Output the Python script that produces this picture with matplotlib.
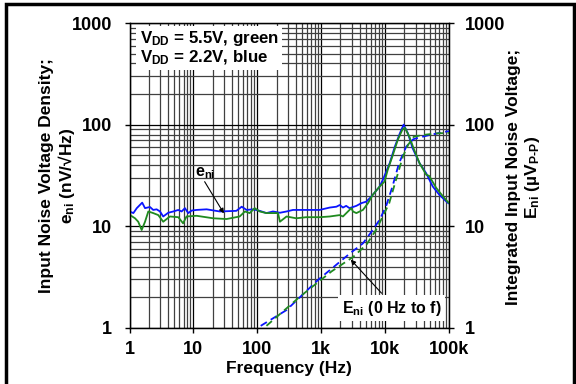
import matplotlib
matplotlib.use("Agg")
import matplotlib.pyplot as plt
import matplotlib.ticker as mticker
from matplotlib.patches import Rectangle

plt.rcParams['font.family'] = ['Liberation Sans', 'DejaVu Sans']
plt.rcParams['font.weight'] = 'bold'
plt.rcParams['mathtext.fontset'] = 'custom'
plt.rcParams['mathtext.rm'] = 'Liberation Sans:bold'
plt.rcParams['mathtext.bf'] = 'Liberation Sans:bold'
plt.rcParams['mathtext.it'] = 'Liberation Sans:bold'

# noise density, VDD = 2.2V (blue)
f_blue = [1.0, 1.15, 1.3, 1.58, 1.75, 2.09, 2.35, 2.66, 3.0, 3.37, 4.04, 4.84, 5.8, 6.55,
          7.37, 8.3, 9.4, 11.2, 16.1, 25.9, 47, 57, 68, 86, 109, 139, 176, 226, 287, 362,
          585, 944, 1360, 1730, 1950, 2190, 2460, 2770, 3550, 4250, 5080, 6080, 8200,
          9200, 11800, 14200, 17000, 19500, 22800, 27000, 34600, 44000, 55800, 70800,
          95000, 100000]
e_blue = [14.0, 13.5, 15.1, 17.1, 15.1, 15.5, 14.5, 14.7, 14.0, 12.5, 13.6, 14.0, 14.5, 14.0,
          15.1, 13.5, 14.3, 14.5, 14.7, 14.0, 14.2, 15.6, 14.5, 14.7, 14.2, 13.5, 14.0, 13.6,
          14.0, 14.5, 14.5, 14.5, 15.3, 15.6, 16.2, 15.3, 15.9, 15.1, 15.9, 16.9, 17.5, 19.6,
          24.6, 28.6, 41.8, 60.8, 82, 100, 82, 58.5, 41.8, 33.2, 24.6, 20.4, 17.1, 16.8]

# noise density, VDD = 5.5V (green)
f_green = [1.02, 1.22, 1.37, 1.55, 1.75, 1.97, 2.35, 2.82, 3.37, 4.29, 5.8, 6.9, 7.8, 11.2,
           20.4, 33, 53, 64, 76, 91, 109, 139, 211, 226, 287, 406, 585, 944, 1360, 1950,
           2190, 2960, 3140, 3550, 4500, 5400, 6400, 8200, 9800, 11000, 13000, 15800,
           18600, 20300, 24000, 28500, 34600, 44000, 49000, 63000, 80000, 95000, 100000]
e_green = [12.9, 12.0, 11.1, 9.2, 11.1, 14.0, 13.5, 12.9, 11.1, 12.5, 12.3, 10.7, 12.5, 12.7,
           12.0, 11.8, 12.5, 14.0, 13.5, 15.1, 14.0, 13.5, 13.5, 11.1, 12.5, 12.0, 12.3, 12.3,
           12.5, 12.9, 12.5, 15.1, 14.0, 13.5, 14.5, 16.9, 20.4, 24.6, 27.6, 36, 48.7, 71,
           89, 93.6, 76, 56.5, 41.8, 32.2, 31.3, 23.9, 19.8, 17.5, 17.0]

# integrated noise (0 Hz to f)
f_int_blue = [113, 286, 890, 1360, 2800, 4500, 6400, 8200, 10300, 13000, 16500, 21400,
              27700, 35000, 49000, 95000, 100000]
E_int_blue = [1.05, 1.5, 2.97, 3.7, 5.4, 6.8, 9.2, 11.6, 15.6, 24.5, 41.7, 60.8,
              72, 75, 79, 86, 86]
f_int_green = [139, 463, 1450, 3160, 5100, 7200, 9200, 11600, 14800, 19000, 22800,
               28000, 38000, 63000, 95000, 100000]
E_int_green = [1.05, 2.03, 3.6, 5.0, 6.6, 9.2, 12.5, 16.9, 28.6, 48.6, 63,
               76, 79, 82, 83, 83]

x_ticks = [1, 10, 100, 1000, 10000, 100000]
x_labels = ['1', '10', '100', '1k', '10k', '100k']
y_ticks = [1, 10, 100, 1000]
y_labels = ['1', '10', '100', '1000']

blue = '#0a14ff'
green = '#1f8a1f'

fig = plt.figure(figsize=(5.76, 3.84), dpi=100)
ax = fig.add_axes([129.5 / 576, 1 - 328 / 384, 319.5 / 576, 305 / 384])
ax.set_xscale('log')
ax.set_yscale('log')
ax.set_xlim(1, 100000)
ax.set_ylim(1, 1000)

ax.grid(which='major', color='black', lw=0.9, zorder=0)
ax.grid(which='minor', color='#404040', lw=0.9, zorder=0)
ax.set_axisbelow(True)

ax.set_xticks(x_ticks)
ax.set_xticklabels(x_labels)
ax.set_yticks(y_ticks)
ax.set_yticklabels(y_labels)
ax.xaxis.set_minor_locator(mticker.LogLocator(base=10, subs=range(2, 10), numticks=20))
ax.yaxis.set_minor_locator(mticker.LogLocator(base=10, subs=range(2, 10), numticks=20))
ax.xaxis.set_minor_formatter(mticker.NullFormatter())
ax.yaxis.set_minor_formatter(mticker.NullFormatter())
ax.tick_params(which='major', direction='out', length=3.6, width=1, labelsize=13)
ax.tick_params(axis='x', which='major', pad=6)
ax.tick_params(axis='y', which='major', pad=9)
ax.tick_params(which='minor', length=0)
for lab in ax.get_xticklabels() + ax.get_yticklabels():
    lab.set_fontweight('bold')
for sp in ax.spines.values():
    sp.set_linewidth(1.0)

ax.plot(f_blue, e_blue, color=blue, lw=1.3, zorder=3)
ax.plot(f_green, e_green, color=green, lw=1.3, zorder=3)
ax.plot(f_int_blue, E_int_blue, color=blue, lw=1.3, ls=(0, (4, 2.5)), zorder=3)
ax.plot(f_int_green, E_int_green, color=green, lw=1.3, ls=(0, (4, 2.5)), zorder=3)

# right axis
ax2 = ax.twinx()
ax2.set_yscale('log')
ax2.set_ylim(1, 1000)
ax2.set_yticks(y_ticks)
ax2.set_yticklabels(y_labels)
ax2.yaxis.set_minor_formatter(mticker.NullFormatter())
ax2.tick_params(which='major', direction='out', length=3.6, width=1, labelsize=13, pad=8)
ax2.tick_params(which='minor', length=0)
for lab in ax2.get_yticklabels():
    lab.set_fontweight('bold')

# supply voltage box
ax.text(0.032, 0.918, 'V$_{\\rm DD}$ = 5.5V, green\nV$_{\\rm DD}$ = 2.2V, blue',
        transform=ax.transAxes, fontsize=12.2, fontweight='bold', va='center', ha='left',
        linespacing=1.0, zorder=5,
        bbox=dict(boxstyle='square,pad=0.2', fc='white', ec='none'))

# annotations
ax.text(15.5, 33, 'e$_{\\rm ni}$', fontsize=11.5, fontweight='bold',
        ha='center', va='center', zorder=5)
ax.annotate('', xy=(30, 13.4), xytext=(15, 27.5), zorder=5,
            arrowprops=dict(arrowstyle='-|>', color='black', lw=0.8, mutation_scale=7,
                            shrinkA=0, shrinkB=0))
ax.text(12600, 1.57, 'E$_{\\rm ni}$ (0 Hz to f)', fontsize=11.5, fontweight='bold',
        ha='center', va='center', zorder=5,
        bbox=dict(boxstyle='square,pad=0.2', fc='white', ec='none'))
ax.annotate('', xy=(2900, 4.7), xytext=(8800, 2.2), zorder=5,
            arrowprops=dict(arrowstyle='-|>', color='black', lw=0.8, mutation_scale=7,
                            shrinkA=0, shrinkB=0))

# axis titles
fig.text(289 / 576, 1 - 368 / 384, 'Frequency (Hz)', fontsize=12.5, fontweight='bold',
         ha='center', va='center')
fig.text(58 / 576, 1 - 176 / 384, 'Input Noise Voltage Density;\ne$_{\\rm ni}$ (nV/√Hz)',
         fontsize=12.5, fontweight='bold', rotation=90, ha='center', va='center',
         linespacing=1.1)
fig.text(524 / 576, 1 - 177 / 384,
         'Integrated Input Noise Voltage;\nE$_{\\rm ni}$ (µV$_{\\rm P\u2010P}$)',
         fontsize=12.5, fontweight='bold', rotation=90, ha='center', va='center',
         linespacing=1.1)

# outer frame
fig.patches.append(Rectangle((6 / 576, -0.02), 568 / 576, 1.02 - 4 / 384,
                             transform=fig.transFigure, fill=False, ec='black', lw=2.5))

fig.savefig('out.png', dpi=100)
